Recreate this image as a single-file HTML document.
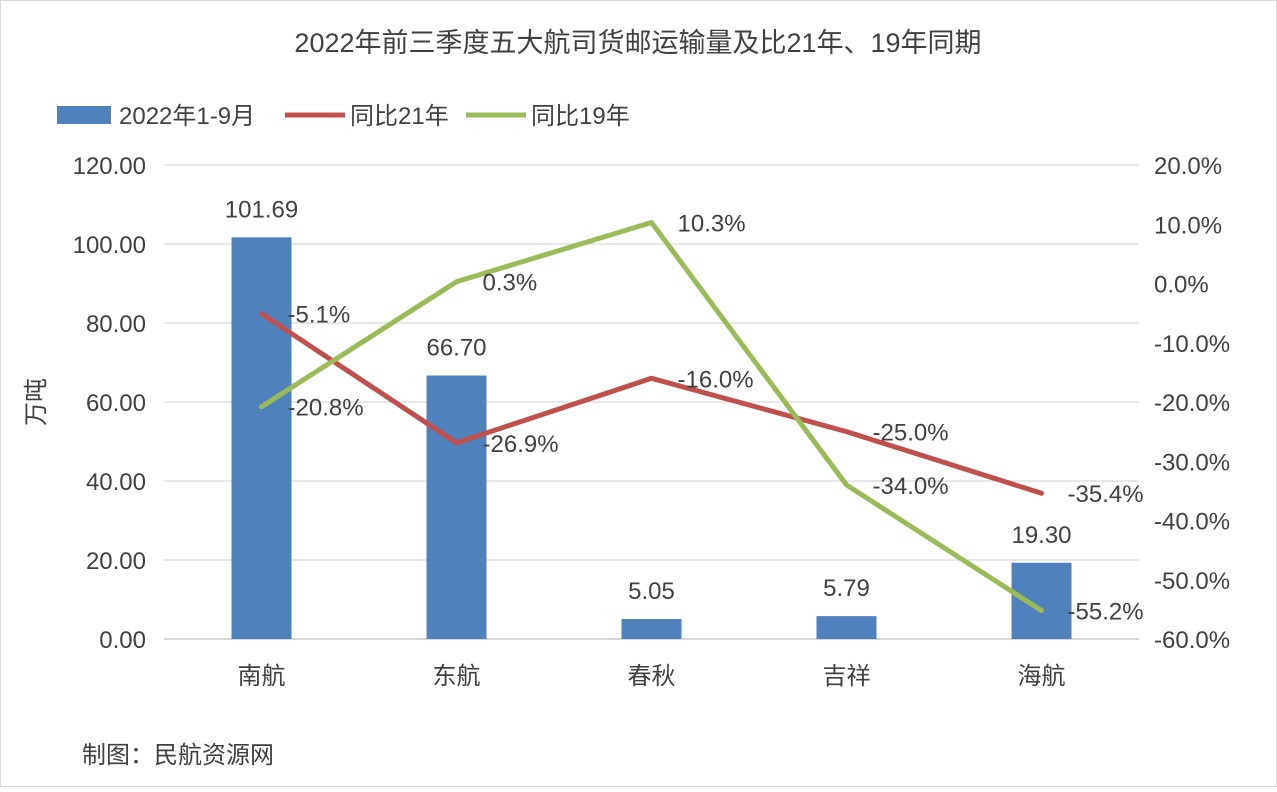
<!DOCTYPE html>
<html><head><meta charset="utf-8"><style>
body{margin:0;background:#fff;}
svg text{font-family:"Liberation Sans","Noto Sans CJK SC",sans-serif;fill:#404040;}
</style></head><body>
<svg width="1277" height="787" viewBox="0 0 1277 787" xmlns="http://www.w3.org/2000/svg" id="chart">
<rect x="0.5" y="0.5" width="1276" height="786" fill="#fff" stroke="#d9d9d9"/>
<text x="638" y="52" font-size="27" text-anchor="middle">2022年前三季度五大航司货邮运输量及比21年、19年同期</text>
<g>
<rect x="57" y="106" width="54" height="18" fill="#4F81BD"/>
<text x="119" y="124" font-size="24">2022年1-9月</text>
<line x1="285" y1="115" x2="345" y2="115" stroke="#C0504D" stroke-width="5"/>
<text x="350" y="124" font-size="24">同比21年</text>
<line x1="466" y1="115" x2="526" y2="115" stroke="#9BBB59" stroke-width="5"/>
<text x="531" y="124" font-size="24">同比19年</text>
</g>
<text transform="translate(44,402) rotate(-90)" font-size="24" text-anchor="middle">万吨</text>
<text x="82" y="763" font-size="24">制图：民航资源网</text>
<g id="grid"></g><g id="marks"></g>
</svg>
<script>
const categories=["南航","东航","春秋","吉祥","海航"];
const volumes=[101.69,66.70,5.05,5.79,19.30];
const vs21=[-5.1,-26.9,-16.0,-25.0,-35.4];
const vs19=[-20.8,0.3,10.3,-34.0,-55.2];
const leftTicks=[0,20,40,60,80,100,120];
const rightTicks=[-60,-50,-40,-30,-20,-10,0,10,20];
const NS="http://www.w3.org/2000/svg";
const plotTop=165,plotBot=639,x0=164,step=195;
const yL=v=>plotBot-(v/120)*(plotBot-plotTop);
const yR=v=>plotBot-((v+60)/80)*(plotBot-plotTop);
const xC=i=>x0+step*(i+0.5);
function mk(tag,attrs,parent,txt){const e=document.createElementNS(NS,tag);for(const k in attrs)e.setAttribute(k,attrs[k]);if(txt!==undefined)e.textContent=txt;parent.appendChild(e);return e;}
const gGrid=document.getElementById('grid'),gMarks=document.getElementById('marks');
leftTicks.forEach(t=>{const y=yL(t);
const l=mk('line',{x1:x0,x2:x0+step*5,y1:y,y2:y,stroke:t===0?'#bfbfbf':'#d9d9d9','stroke-width':1.3},gGrid);


const tx=mk('text',{x:146,y:y+9,'font-size':24,'text-anchor':'end'},gGrid,t.toFixed(2));

});
rightTicks.forEach(t=>{const tx=mk('text',{x:1154,y:yR(t)+9,'font-size':24},gGrid,t.toFixed(1)+'%');

});
categories.forEach((c,i)=>{const tx=mk('text',{x:xC(i),y:684,'font-size':24,'text-anchor':'middle'},gGrid,c);

});
volumes.forEach((v,i)=>{const y=yL(v);
const r=mk('rect',{x:xC(i)-30,y:y,width:60,height:plotBot-y,fill:'#4F81BD'},gMarks);


const tx=mk('text',{x:xC(i),y:y-20,'font-size':24,'text-anchor':'middle'},gMarks,v.toFixed(2));

});
[[vs21,'#C0504D','line-vs21'],[vs19,'#9BBB59','line-vs19']].forEach(([arr,col,name])=>{
const p=mk('polyline',{points:arr.map((v,i)=>xC(i)+','+yR(v)).join(' '),fill:'none',stroke:col,'stroke-width':5,'stroke-linejoin':'round','stroke-linecap':'round'},gMarks);


arr.forEach((v,i)=>{const tx=mk('text',{x:xC(i)+26,y:yR(v)+9,'font-size':24},gMarks,v.toFixed(1)+'%');

});});
</script>
</body></html>
